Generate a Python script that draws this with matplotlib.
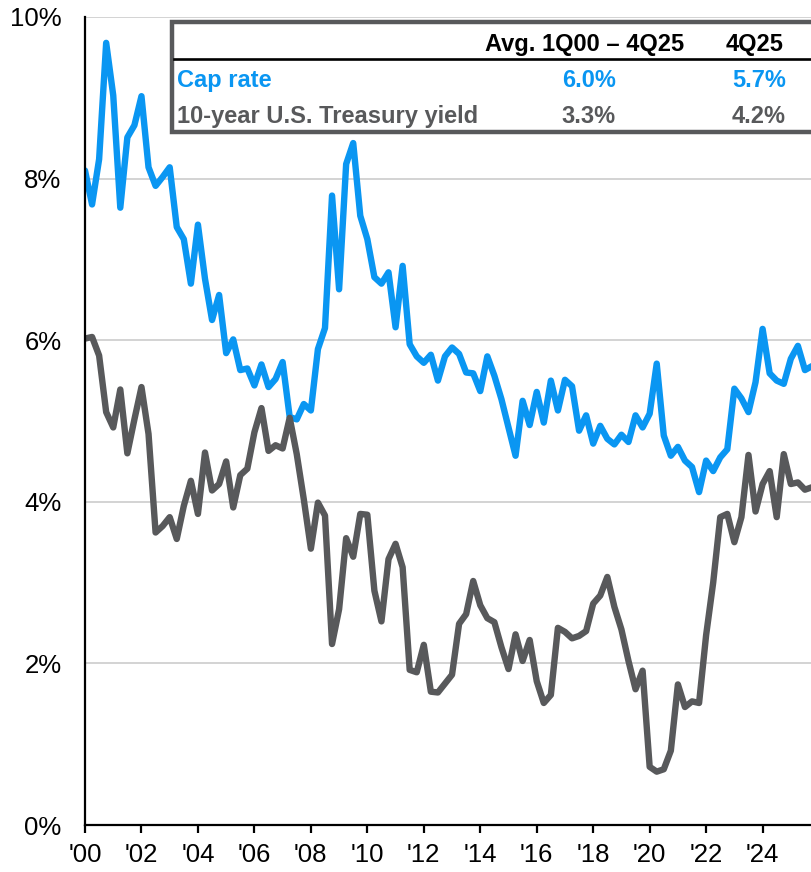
import numpy as np
import matplotlib
matplotlib.use("Agg")
import matplotlib.pyplot as plt
from matplotlib.patches import Rectangle
from matplotlib.lines import Line2D

# ---------------- data (quarterly, 1Q00 - 4Q25) ----------------
start_year = 2000
cap_rate = [8.10, 7.68, 8.24, 9.68, 9.03, 7.64, 8.51, 8.66, 9.02, 8.14,
            7.91, 8.02, 8.14, 7.40, 7.25, 6.70, 7.43, 6.76, 6.25, 6.56,
            5.84, 6.01, 5.63, 5.65, 5.44, 5.70, 5.42, 5.52, 5.73, 5.05,
            5.02, 5.21, 5.13, 5.89, 6.15, 7.79, 6.63, 8.18, 8.44, 7.54,
            7.25, 6.78, 6.70, 6.84, 6.16, 6.92, 5.95, 5.80, 5.72, 5.82,
            5.50, 5.80, 5.91, 5.83, 5.60, 5.59, 5.37, 5.80, 5.56, 5.27,
            4.92, 4.57, 5.25, 4.95, 5.36, 4.98, 5.50, 5.13, 5.51, 5.43,
            4.88, 5.07, 4.72, 4.94, 4.78, 4.71, 4.83, 4.74, 5.07, 4.92,
            5.09, 5.71, 4.82, 4.57, 4.68, 4.51, 4.43, 4.12, 4.51, 4.38,
            4.55, 4.65, 5.40, 5.28, 5.11, 5.48, 6.14, 5.59, 5.50, 5.46,
            5.77, 5.93, 5.63, 5.68]
treasury = [6.02, 6.04, 5.81, 5.11, 4.92, 5.39, 4.60, 5.02, 5.42, 4.84,
            3.62, 3.70, 3.81, 3.54, 3.95, 4.26, 3.85, 4.61, 4.14, 4.22,
            4.50, 3.93, 4.33, 4.41, 4.86, 5.16, 4.63, 4.70, 4.66, 5.04,
            4.59, 4.03, 3.42, 3.99, 3.83, 2.24, 2.67, 3.55, 3.32, 3.85,
            3.84, 2.90, 2.52, 3.29, 3.48, 3.19, 1.92, 1.89, 2.23, 1.65,
            1.64, 1.75, 1.86, 2.49, 2.61, 3.02, 2.72, 2.56, 2.51, 2.20,
            1.93, 2.36, 2.03, 2.29, 1.78, 1.51, 1.61, 2.44, 2.39, 2.31,
            2.34, 2.40, 2.74, 2.84, 3.07, 2.70, 2.42, 2.03, 1.68, 1.91,
            0.72, 0.66, 0.69, 0.92, 1.74, 1.46, 1.53, 1.51, 2.35, 3.00,
            3.81, 3.85, 3.50, 3.81, 4.58, 3.88, 4.22, 4.38, 3.81, 4.59,
            4.22, 4.24, 4.15, 4.18]
x_ticks = [2000, 2002, 2004, 2006, 2008, 2010, 2012, 2014, 2016, 2018, 2020, 2022, 2024]
x_tick_labels = ["'00", "'02", "'04", "'06", "'08", "'10", "'12", "'14", "'16", "'18", "'20", "'22", "'24"]
y_ticks = [0, 2, 4, 6, 8, 10]
y_tick_labels = ["0%", "2%", "4%", "6%", "8%", "10%"]

table_header = ["Avg. 1Q00 \u2013 4Q25", "4Q25"]
series_names = ["Cap rate", "10-year U.S. Treasury yield"]
avg_values = ["6.0%", "3.3%"]
latest_values = ["5.7%", "4.2%"]

# ---------------- style ----------------
BLUE = "#0A96F2"
GRAY = "#58595B"
FONT = "Liberation Sans"
plt.rcParams["font.family"] = [FONT, "DejaVu Sans"]

W, H = 812, 872
fig = plt.figure(figsize=(W / 100, H / 100), dpi=100)
ax = fig.add_axes([85 / W, 1 - 825 / H, (812 - 85) / W, (825 - 17) / H])

quarters = start_year + np.arange(len(cap_rate)) / 4.0
ax.plot(quarters, cap_rate, color=BLUE, lw=4.6, solid_joinstyle="round",
        solid_capstyle="round", zorder=3)
ax.plot(quarters, treasury, color=GRAY, lw=4.6, solid_joinstyle="round",
        solid_capstyle="round", zorder=4)

ax.set_xlim(quarters[0], quarters[-1])
ax.set_ylim(0, 10)
ax.set_yticks(y_ticks)
ax.set_yticklabels(y_tick_labels)
ax.set_xticks(x_ticks)
ax.set_xticklabels(x_tick_labels)
ax.grid(axis="y", color="#D0D0D0", lw=1.3, zorder=0)
ax.set_axisbelow(True)
for s in ["top", "right"]:
    ax.spines[s].set_visible(False)
for s in ["left", "bottom"]:
    ax.spines[s].set_linewidth(1.6)
    ax.spines[s].set_color("black")
    ax.spines[s].set_zorder(5)
ax.tick_params(axis="y", length=0, pad=17, labelsize=18.5, colors="black")
ax.tick_params(axis="x", length=6, width=1.6, pad=7, labelsize=18.5, colors="black")


# ---------------- table box (figure pixel coordinates) ----------------
def fx(px):
    return px / W


def fy(py):
    return 1 - py / H


box = Rectangle((fx(172), fy(132.5)), fx(830) - fx(172), fy(21.7) - fy(132.5),
                transform=fig.transFigure, facecolor="white", edgecolor=GRAY,
                lw=3.2, zorder=10, clip_on=False)
fig.add_artist(box)
fig.add_artist(Line2D([fx(174), fx(830)], [fy(59.5), fy(59.5)],
                      transform=fig.transFigure, color="black", lw=1.9, zorder=11))

fs = 17
col1_right = 616
col2_right = 786
fig.text(fx(684), fy(51.5), table_header[0], ha="right", va="baseline",
         fontsize=fs, fontweight="bold", color="black", zorder=12)
fig.text(fx(784), fy(51.5), table_header[1], ha="right", va="baseline",
         fontsize=fs, fontweight="bold", color="black", zorder=12)

row_baselines = [86.7, 123]
row_colors = [BLUE, GRAY]
for name, a, l, yb, c in zip(series_names, avg_values, latest_values, row_baselines, row_colors):
    fig.text(fx(177), fy(yb), name, ha="left", va="baseline", fontsize=fs,
             fontweight="bold", color=c, zorder=12)
    fig.text(fx(col1_right), fy(yb), a, ha="right", va="baseline", fontsize=fs,
             fontweight="bold", color=c, zorder=12)
    fig.text(fx(col2_right), fy(yb), l, ha="right", va="baseline", fontsize=fs,
             fontweight="bold", color=c, zorder=12)

fig.savefig("out.png", dpi=100)
